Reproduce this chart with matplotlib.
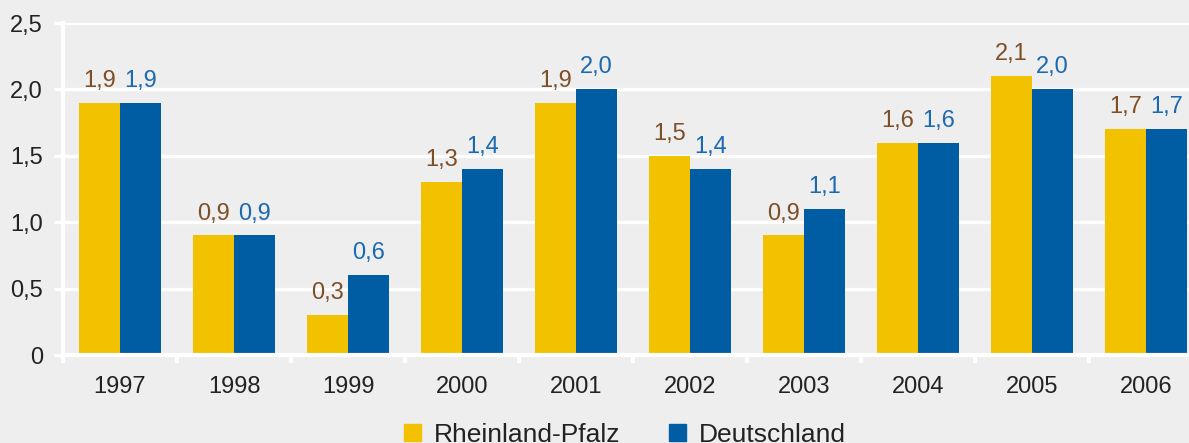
import matplotlib.pyplot as plt
import numpy as np
from matplotlib.patches import Patch
from matplotlib.ticker import FuncFormatter

YEARS = ["1997", "1998", "1999", "2000", "2001", "2002", "2003", "2004", "2005", "2006"]
RLP = [1.9, 0.9, 0.3, 1.3, 1.9, 1.5, 0.9, 1.6, 2.1, 1.7]
DE = [1.9, 0.9, 0.6, 1.4, 2.0, 1.4, 1.1, 1.6, 2.0, 1.7]

BG = "#edeeed"
GOLD = "#f2c100"
BLUE = "#005ca3"
BROWN = "#7d4f27"
LBLUE = "#1b69b1"

plt.rcParams['font.family'] = ['Liberation Sans', 'DejaVu Sans']
plt.rcParams['text.color'] = "#222222"

fig = plt.figure(figsize=(11.89, 4.43), dpi=100, facecolor=BG)
# axes runs past the right edge, like the cropped original
ax = fig.add_axes([63 / 1189, 88 / 443, 1140 / 1189, 332 / 443], facecolor=BG)

x = np.arange(len(YEARS))
w = 0.36
b1 = ax.bar(x - w / 2, RLP, w, color=GOLD, zorder=2)
b2 = ax.bar(x + w / 2, DE, w, color=BLUE, zorder=2)


def comma(v):
    return f"{v:.1f}".replace(".", ",")


for bars, vals, col in [(b1, RLP, BROWN), (b2, DE, LBLUE)]:
    for rect, v in zip(bars, vals):
        ax.annotate(comma(v), (rect.get_x() + rect.get_width() / 2, v),
                    xytext=(0, 11.5), textcoords="offset points",
                    ha="center", va="baseline", fontsize=17, color=col)

ax.set_xlim(-0.5, len(YEARS) - 0.5)
ax.set_ylim(0, 2.5)
ax.set_yticks([0, 0.5, 1.0, 1.5, 2.0, 2.5])
ax.yaxis.set_major_formatter(FuncFormatter(lambda v, p: "0" if v == 0 else comma(v)))
ax.grid(axis="y", color="white", lw=2.4, zorder=0)
ax.set_axisbelow(True)

ax.set_xticks(x)
ax.set_xticklabels(YEARS)
ax.set_xticks(np.arange(-0.5, len(YEARS)), minor=True)
ax.tick_params(axis="x", which="major", length=0, pad=15, labelsize=17, labelcolor="#222222")
ax.tick_params(axis="x", which="minor", length=6, width=3, color="white", direction="out")
ax.tick_params(axis="y", length=6.5, width=2.4, color="white", pad=8, labelsize=17,
               labelcolor="#222222")

for s in ["top", "right"]:
    ax.spines[s].set_visible(False)
for s in ["left", "bottom"]:
    ax.spines[s].set_color("white")
    ax.spines[s].set_linewidth(3)
    ax.spines[s].set_zorder(3)

handles = [Patch(color=GOLD), Patch(color=BLUE)]
fig.legend(handles, ["Rheinland-Pfalz", "Deutschland"], loc="center",
           bbox_to_anchor=(0.5257, 0.018), ncol=2, frameon=False, fontsize=19,
           handlelength=0.64, handleheight=0.64, handletextpad=0.5, columnspacing=1.85,
           borderpad=0, borderaxespad=0)

fig.savefig("out.png", dpi=100, facecolor=BG)
